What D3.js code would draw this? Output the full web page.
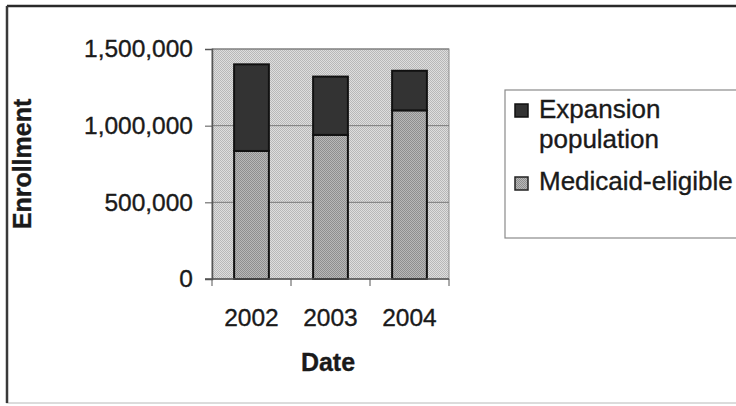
<!DOCTYPE html>
<html>
<head>
<meta charset="utf-8">
<script src="https://cdn.jsdelivr.net/npm/d3@7"></script>
<style>
  html, body { margin: 0; padding: 0; background: #fff; }
  text { font-family: "Liberation Sans", Arial, sans-serif; fill: #1a1a1a; stroke: #1a1a1a; stroke-width: 0.35px; }
</style>
</head>
<body>
<svg id="chart" width="736" height="406"></svg>
<script>
const categories = ["2002", "2003", "2004"];
const medicaidEligible = [835000, 940000, 1100000];
const expansionPopulation = [565000, 380000, 258000];
const yTicks = [0, 500000, 1000000, 1500000];
const yTickLabels = ["0", "500,000", "1,000,000", "1,500,000"];
const seriesNames = ["Expansion population", "Medicaid-eligible"];

const svg = d3.select("#chart");
const defs = svg.append("defs");

function stipple(id, light, dark) {
  const p = defs.append("pattern").attr("id", id)
    .attr("patternUnits", "userSpaceOnUse").attr("width", 2).attr("height", 2);
  p.append("rect").attr("width", 2).attr("height", 2).attr("fill", light);
  p.append("rect").attr("width", 1).attr("height", 1).attr("fill", dark);
  p.append("rect").attr("x", 1).attr("y", 1).attr("width", 1).attr("height", 1).attr("fill", dark);
}
stipple("bgPat", "#dedede", "#b8b8b8");
stipple("medPat", "#b8b8b8", "#8e8e8e");

// outer border
svg.append("rect").attr("x", 7).attr("y", 6).attr("width", 740).attr("height", 397)
  .attr("fill", "none").attr("stroke", "#d0d0d0").attr("stroke-width", 1.5);
svg.append("line").attr("x1", 7).attr("x2", 736).attr("y1", 6).attr("y2", 6)
  .attr("stroke", "#2a2a2a").attr("stroke-width", 2.5);
svg.append("line").attr("x1", 7).attr("x2", 7).attr("y1", 6).attr("y2", 403)
  .attr("stroke", "#3a3a3a").attr("stroke-width", 2.5);

const margin = { left: 212, right: 449, top: 49, bottom: 279 };

const x = d3.scaleBand().domain(categories).range([margin.left, margin.right])
  .paddingInner(0.56).paddingOuter(0.28);
const xOuter = d3.scaleBand().domain(categories).range([margin.left, margin.right]);
const y = d3.scaleLinear().domain([0, 1500000]).range([margin.bottom, margin.top]);

// plot area
svg.append("rect").attr("x", margin.left).attr("y", margin.top)
  .attr("width", margin.right - margin.left).attr("height", margin.bottom - margin.top)
  .attr("fill", "url(#bgPat)").attr("stroke", "#8a8a8a").attr("stroke-width", 1);

// gridlines
svg.append("g").selectAll("line").data(yTicks.filter(d => d > 0)).join("line")
  .attr("x1", margin.left).attr("x2", margin.right)
  .attr("y1", d => y(d)).attr("y2", d => y(d))
  .attr("stroke", "#7a7a7a").attr("stroke-width", 1);

// y axis
const yAxis = svg.append("g").attr("transform", `translate(${margin.left},0)`)
  .call(d3.axisLeft(y).tickValues(yTicks).tickSize(7).tickPadding(12)
    .tickFormat((d, i) => yTickLabels[i]));
yAxis.select(".domain").attr("stroke", "#555").attr("stroke-width", 1.5);
yAxis.selectAll(".tick line").attr("stroke", "#555");
yAxis.selectAll("text").attr("font-size", 24.5).attr("font-family", '"Liberation Sans", Arial, sans-serif')
  .attr("fill", "#1a1a1a").attr("dy", "0.32em");

// bars
const stackData = categories.map((c, i) => ({ cat: c, med: medicaidEligible[i], exp: expansionPopulation[i] }));
const barW = x.bandwidth();
svg.append("g").selectAll("rect").data(stackData).join("rect")
  .attr("x", d => xOuter(d.cat) + xOuter.bandwidth() / 2 - barW / 2)
  .attr("y", d => y(d.med))
  .attr("width", barW).attr("height", d => y(0) - y(d.med))
  .attr("fill", "url(#medPat)").attr("stroke", "#111").attr("stroke-width", 2);
svg.append("g").selectAll("rect").data(stackData).join("rect")
  .attr("x", d => xOuter(d.cat) + xOuter.bandwidth() / 2 - barW / 2)
  .attr("y", d => y(d.med + d.exp))
  .attr("width", barW).attr("height", d => y(d.med) - y(d.med + d.exp))
  .attr("fill", "#333").attr("stroke", "#111").attr("stroke-width", 2);

// x axis
const xAxisG = svg.append("g").attr("transform", `translate(0,${margin.bottom})`);
xAxisG.append("line").attr("x1", margin.left - 7).attr("x2", margin.right)
  .attr("stroke", "#555").attr("stroke-width", 1.5);
const bounds = [margin.left].concat(categories.map(c => xOuter(c) + xOuter.bandwidth()));
xAxisG.selectAll("line.tk").data(bounds).join("line").attr("class", "tk")
  .attr("x1", d => d).attr("x2", d => d).attr("y1", 0).attr("y2", 7)
  .attr("stroke", "#555").attr("stroke-width", 1);
xAxisG.selectAll("text").data(categories).join("text")
  .attr("x", d => xOuter(d) + xOuter.bandwidth() / 2).attr("y", 47)
  .attr("text-anchor", "middle").attr("font-size", 24.5).text(d => d);

// axis titles
svg.append("text").attr("x", 328).attr("y", 371).attr("text-anchor", "middle")
  .attr("font-size", 25).attr("font-weight", "bold").text("Date");
svg.append("text").attr("transform", "translate(31,164) rotate(-90)")
  .attr("text-anchor", "middle").attr("font-size", 25).attr("font-weight", "bold").text("Enrollment");

// legend
const lg = svg.append("g");
lg.append("rect").attr("x", 505).attr("y", 90).attr("width", 240).attr("height", 148)
  .attr("fill", "#fff").attr("stroke", "#8a8a8a").attr("stroke-width", 1.2);
lg.append("rect").attr("x", 515).attr("y", 104).attr("width", 13).attr("height", 13)
  .attr("fill", "#333").attr("stroke", "#111").attr("stroke-width", 1.5);
lg.append("text").attr("x", 539).attr("y", 118).attr("font-size", 26).text("Expansion");
lg.append("text").attr("x", 539).attr("y", 148).attr("font-size", 26).text("population");
lg.append("rect").attr("x", 515).attr("y", 177).attr("width", 13).attr("height", 13)
  .attr("fill", "url(#medPat)").attr("stroke", "#222").attr("stroke-width", 1.5);
lg.append("text").attr("x", 539).attr("y", 190).attr("font-size", 26).text(seriesNames[1]);
</script>
</body>
</html>
